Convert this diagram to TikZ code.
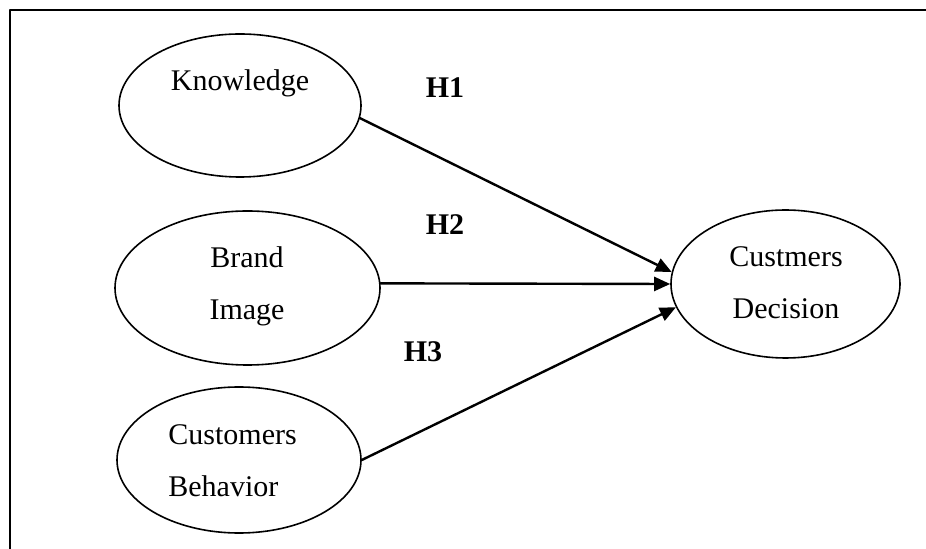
\documentclass[tikz,border=0pt]{standalone}
\usepackage{fontspec}
\setmainfont{Liberation Serif}
\usetikzlibrary{arrows.meta,shapes.geometric,positioning}
\definecolor{ink}{HTML}{000000}
\newcommand{\boxfont}{\fontsize{15}{26}\selectfont}

\begin{document}
\begin{tikzpicture}[x=0.5pt,y=-0.5pt,line cap=round,line join=round,
    construct/.style={ellipse,draw=ink,line width=.8pt,inner sep=0pt},
    caption/.style={font=\boxfont,text=ink,inner sep=0pt},
    hyp/.style={font=\fontsize{15}{18}\selectfont\bfseries,text=ink,inner sep=0pt},
    path/.style={-{Triangle[length=8pt,width=7pt]},draw=ink,line width=1.2pt}]
  \path[use as bounding box] (0,0) rectangle (926,549);
  \draw[ink,line width=1.1pt,line cap=butt] (10,549) -- (10,10) -- (926,10);

  % constructs
  \node[construct,minimum width=121pt,minimum height=71.5pt] (know) at (240,105.5) {};
  \node[construct,minimum width=132.5pt,minimum height=77pt] (brand) at (247.5,288) {};
  \node[construct,minimum width=122pt,minimum height=73pt] (behav) at (239,460) {};
  \node[construct,minimum width=114.5pt,minimum height=74pt] (decis) at (785.5,284) {};

  % base = last line
  \node[caption,anchor=base] (knowT) at (240,91) {Knowledge};
  \node[caption,anchor=base,align=center] (brandT) at (247,320) {Brand\\Image};
  \node[caption,anchor=base west,align=left] (behavT) at (168,497) {Customers\\Behavior};
  \node[caption,anchor=base,align=center] (decisT) at (786,319) {Custmers\\Decision};

  % hypotheses
  \draw[path] (know.-6) -- (decis.174);
  \draw[path] (brand.2) -- (decis.west);
  \draw[path] (behav.east) -- (decis.192);
  \node[hyp,anchor=base] (h1) at (445,98) {H1};
  \node[hyp,anchor=base] (h2) at (445,235) {H2};
  \node[hyp,anchor=base] (h3) at (423,362) {H3};
\end{tikzpicture}
\end{document}
